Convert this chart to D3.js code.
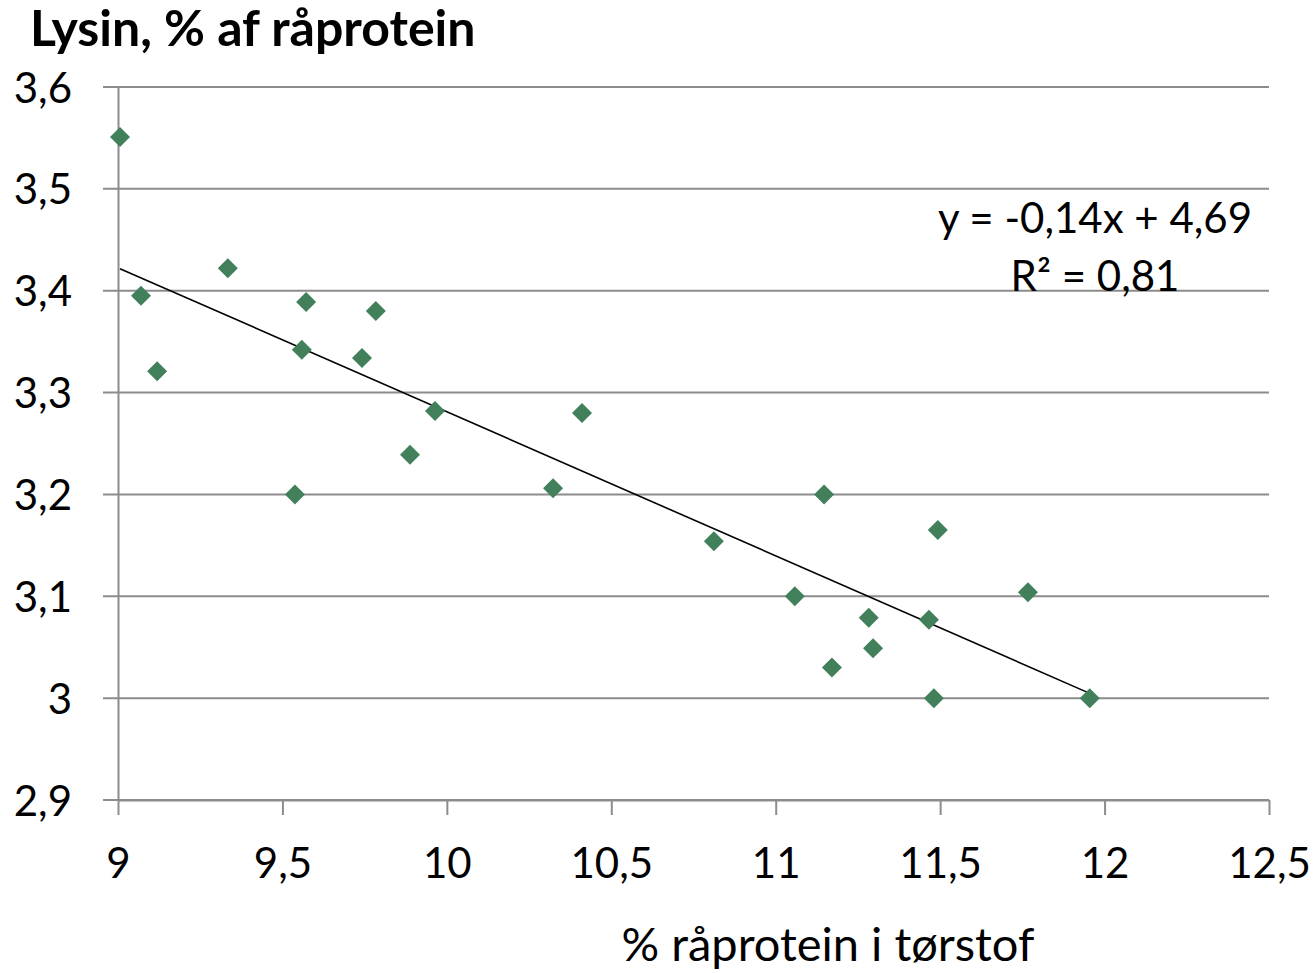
<!DOCTYPE html>
<html>
<head>
<meta charset="utf-8">
<script src="https://cdn.jsdelivr.net/npm/d3@7"></script>
<style>
  body { margin: 0; background: #fff; }
  text { font-family: Lato, "Open Sans", sans-serif; fill: #000; }
</style>
</head>
<body>
<div id="chart"></div>
<script>
// protein in dry matter (%) and lysine (% of crude protein)
var protein = [9.006, 9.07, 9.119, 9.334, 9.538, 9.559, 9.572, 9.742, 9.784, 9.888, 9.964,
    10.323, 10.411, 10.812, 11.058, 11.147, 11.171, 11.283, 11.296, 11.466, 11.481, 11.493, 11.767, 11.955];
var lysin = [3.551, 3.395, 3.321, 3.422, 3.2, 3.342, 3.389, 3.334, 3.380, 3.239, 3.282,
    3.206, 3.280, 3.154, 3.100, 3.2, 3.030, 3.079, 3.049, 3.077, 3.0, 3.165, 3.104, 3.0];
var xTicks = [9, 9.5, 10, 10.5, 11, 11.5, 12, 12.5];
var yTicks = [2.9, 3, 3.1, 3.2, 3.3, 3.4, 3.5, 3.6];

var width = 1316, height = 973;
var plotLeft = 118, plotRight = 1269, plotTop = 87, plotBottom = 800;
var comma = function (v) { return String(v).replace(".", ","); };

var svg = d3.select("#chart").append("svg")
    .attr("width", width)
    .attr("height", height);

var xScale = d3.scaleLinear().domain([9, 12.5]).range([plotLeft, plotRight]);
var yScale = d3.scaleLinear().domain([2.9, 3.6]).range([plotBottom, plotTop]);

// horizontal gridlines
svg.append("g")
    .selectAll("line")
    .data(yTicks)
    .enter().append("line")
    .attr("x1", plotLeft - 15)
    .attr("x2", plotRight)
    .attr("y1", function (d) { return yScale(d); })
    .attr("y2", function (d) { return yScale(d); })
    .attr("stroke", "#8c8c8c")
    .attr("stroke-width", 2);

// y axis
var yAxis = svg.append("g")
    .attr("transform", "translate(" + plotLeft + ",0)")
    .call(d3.axisLeft(yScale).tickValues(yTicks).tickSize(0).tickPadding(46).tickFormat(comma));
yAxis.select(".domain").attr("stroke", "#8c8c8c").attr("stroke-width", 2);
yAxis.selectAll("text").style("font-size", "42px").attr("dy", "0.36em");

// x axis
var xAxis = svg.append("g")
    .attr("transform", "translate(0," + plotBottom + ")")
    .call(d3.axisBottom(xScale).tickValues(xTicks).tickSize(15).tickSizeOuter(0).tickPadding(33).tickFormat(comma));
xAxis.select(".domain").attr("stroke", "#8c8c8c").attr("stroke-width", 2);
xAxis.selectAll(".tick line").attr("stroke", "#8c8c8c").attr("stroke-width", 2);
xAxis.selectAll("text").style("font-size", "42px");

// linear trendline (least squares)
var mx = d3.mean(protein), my = d3.mean(lysin);
var sxy = d3.sum(protein, function (x, i) { return (x - mx) * (lysin[i] - my); });
var sxx = d3.sum(protein, function (x) { return (x - mx) * (x - mx); });
var slope = sxy / sxx, intercept = my - slope * mx;
var xExt = d3.extent(protein);

svg.append("line")
    .attr("x1", xScale(xExt[0]))
    .attr("y1", yScale(intercept + slope * xExt[0]))
    .attr("x2", xScale(xExt[1]))
    .attr("y2", yScale(intercept + slope * xExt[1]))
    .attr("stroke", "#000")
    .attr("stroke-width", 1.6);

// points
svg.append("g")
    .selectAll("path")
    .data(protein)
    .enter().append("path")
    .attr("d", "M0,-10L10,0L0,10L-10,0Z")
    .attr("transform", function (d, i) { return "translate(" + xScale(d) + "," + yScale(lysin[i]) + ")"; })
    .attr("fill", "#41805a");

// equation label
svg.append("text")
    .attr("x", 1095).attr("y", 233)
    .attr("text-anchor", "middle")
    .style("font-size", "42px")
    .text("y = -0,14x + 4,69");
svg.append("text")
    .attr("x", 1095).attr("y", 291)
    .attr("text-anchor", "middle")
    .style("font-size", "42px")
    .text("R² = 0,81");

// titles
svg.append("text")
    .attr("x", 30).attr("y", 46)
    .style("font-size", "50px")
    .style("font-weight", "bold")
    .text("Lysin, % af råprotein");
svg.append("text")
    .attr("x", 828).attr("y", 961)
    .attr("text-anchor", "middle")
    .style("font-size", "47px")
    .text("% råprotein i tørstof");
</script>
</body>
</html>
